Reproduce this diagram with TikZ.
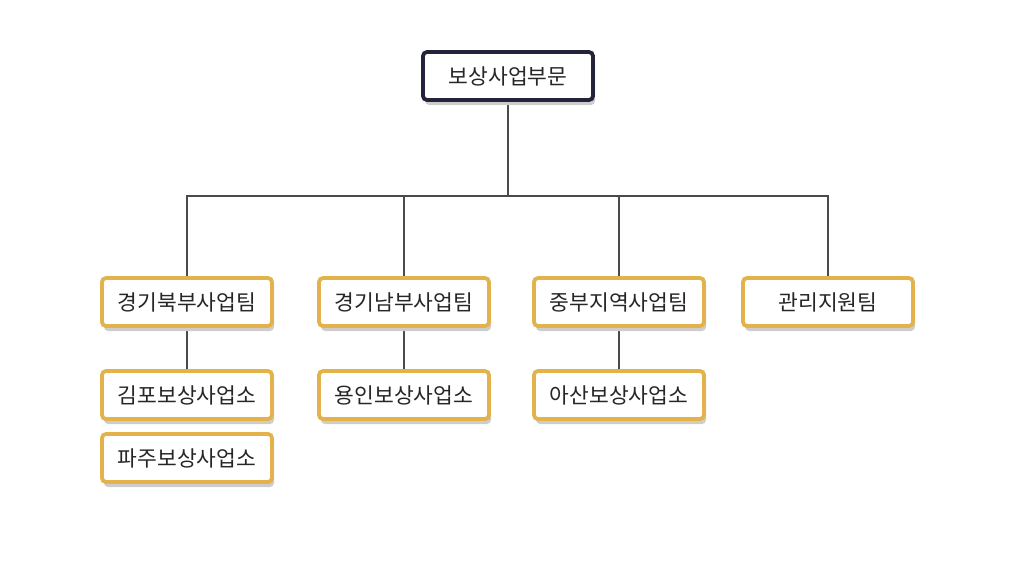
\documentclass[tikz,border=0pt]{standalone}
\usepackage{fontspec}
\newfontfamily\kr{Noto Sans CJK KR}
\usetikzlibrary{positioning,shadows,backgrounds}
\definecolor{gold}{HTML}{E3B24A}
\definecolor{navy}{HTML}{23233A}
\definecolor{shade}{HTML}{CDCDCD}
\definecolor{wire}{HTML}{4A4A4A}
\tikzset{
  unit/.style={draw=gold, line width=3.8pt, rounded corners=4pt, fill=white,
    minimum width=170pt, minimum height=48pt, text=black!85,
    font=\kr\fontsize{21.5}{25}\selectfont,
    drop shadow={shadow xshift=2pt, shadow yshift=-5pt, fill=shade, opacity=1}},
  head/.style={unit, draw=navy},
  wire/.style={draw=wire, line width=1.1pt}
}
\begin{document}
\begin{tikzpicture}[x=1pt,y=-1pt]
  \useasboundingbox (0,0) rectangle (1020,576);
  \node[head] (hq) at (508,76) {보상사업부문};
  % teams
  \node[unit] (north) at (187,302) {경기북부사업팀};
  \node[unit] (south) at (404,302) {경기남부사업팀};
  \node[unit] (mid) at (619,302) {중부지역사업팀};
  \node[unit] (admin) at (828,302) {관리지원팀};
  % offices
  \node[unit] (gimpo) at (187,395) {김포보상사업소};
  \node[unit] (paju) at (187,458) {파주보상사업소};
  \node[unit] (yongin) at (404,395) {용인보상사업소};
  \node[unit] (asan) at (619,395) {아산보상사업소};
  \coordinate (bus) at (508,196);
  \begin{scope}[on background layer]
    \draw[wire] (hq) -- (bus);
    \draw[wire] (north.north) |- (bus) -| (admin.north);
    \draw[wire] (south.north) -- (south |- bus);
    \draw[wire] (mid.north) -- (mid |- bus);
    \draw[wire] (north) -- (gimpo);
    \draw[wire] (south) -- (yongin);
    \draw[wire] (mid) -- (asan);
  \end{scope}
\end{tikzpicture}
\end{document}
